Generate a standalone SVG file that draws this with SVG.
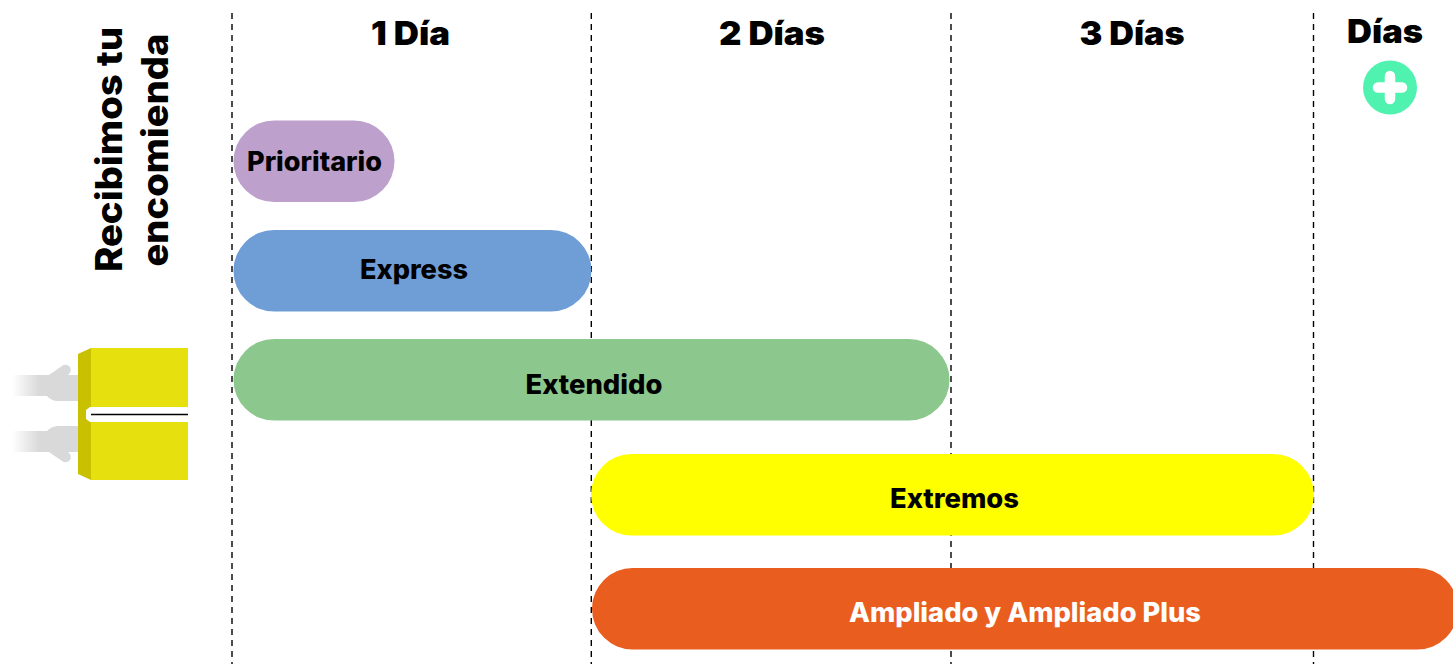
<svg xmlns="http://www.w3.org/2000/svg" width="1453" height="664" viewBox="0 0 1453 664">
<style>
.dash{stroke:#000;stroke-width:1.4;stroke-dasharray:6 5;fill:none}
text{font-family:"Inter","Liberation Sans",sans-serif;fill:#000;text-anchor:middle}
.h{font-size:33px;font-weight:900}
.b{font-size:26.500px;font-weight:800}
.v{font-size:37px;font-weight:800}
.arm{fill:#d9d9d9}
</style>
<defs>
<linearGradient id="fade" x1="0" x2="1" y1="0" y2="0"><stop offset="0" stop-color="#d9d9d9" stop-opacity="0"/><stop offset="0.4" stop-color="#d9d9d9"/></linearGradient>
</defs>
<g id="connectors">
<line class="dash" x1="232" y1="13" x2="232" y2="664"/>
<line class="dash" x1="591.300" y1="13" x2="591.300" y2="664"/>
<line class="dash" x1="951" y1="13" x2="951" y2="664"/>
<line class="dash" x1="1313.500" y1="13" x2="1313.500" y2="664"/>
</g>
<g id="col1"><text class="h" x="410.500" y="45" textLength="79" lengthAdjust="spacingAndGlyphs">1 Día</text></g>
<g id="col2"><text class="h" x="772" y="45" textLength="106" lengthAdjust="spacingAndGlyphs">2 Días</text></g>
<g id="col3"><text class="h" x="1132" y="45" textLength="105" lengthAdjust="spacingAndGlyphs">3 Días</text></g>
<g id="col4"><text class="h" x="1385" y="43" textLength="76" lengthAdjust="spacingAndGlyphs">Días</text>
<circle cx="1390" cy="87.500" r="27" fill="#50f2b0"/>
<path d="M1390 76v23M1378 87.500h24" stroke="#fff" stroke-width="10.500" stroke-linecap="round" fill="none"/></g>
<g id="received"><text class="v" transform="translate(122 149.500) rotate(-90)" textLength="245" lengthAdjust="spacingAndGlyphs">Recibimos tu</text>
<text class="v" transform="translate(168 150) rotate(-90)" textLength="233" lengthAdjust="spacingAndGlyphs">encomienda</text></g>
<g id="box">
<rect x="12" y="375" width="68" height="21" fill="url(#fade)"/>
<rect x="12" y="431" width="68" height="21" fill="url(#fade)"/>
<path class="arm" d="M46 377l16-11a5 5 0 0 1 7 8l-3 3h14v24H58q-7 0-12-6z"/>
<path class="arm" d="M46 450l16 11a5 5 0 0 0 7-8l-3-3h14v-24H58q-7 0-12 6z"/>
<path d="M78 354l13-6v132l-13-6z" fill="#c9c000"/>
<rect x="91" y="348" width="97" height="132" fill="#e6e00e"/>
<path d="M188 407H90l-4 3v9l4 3h98z" fill="#fff"/>
<line x1="91" y1="414.500" x2="188" y2="414.500" stroke="#000" stroke-width="1.500"/>
</g>
<g id="prioritario"><rect x="233.500" y="120.500" width="161" height="81.500" rx="40.700" fill="#bda0cc"/><text class="b" x="314.500" y="171" textLength="135" lengthAdjust="spacingAndGlyphs">Prioritario</text></g>
<g id="express"><rect x="233.500" y="230" width="358" height="81.500" rx="40.700" fill="#6f9dd6"/><text class="b" x="414" y="279" textLength="108" lengthAdjust="spacingAndGlyphs">Express</text></g>
<g id="extendido"><rect x="233.500" y="339" width="716" height="81.500" rx="40.700" fill="#8cc78e"/><text class="b" x="594" y="394" textLength="137" lengthAdjust="spacingAndGlyphs">Extendido</text></g>
<g id="extremos"><rect x="591" y="454" width="723" height="81.500" rx="40.700" fill="#ffff00"/><text class="b" x="954.500" y="508" textLength="129" lengthAdjust="spacingAndGlyphs">Extremos</text></g>
<g id="ampliado"><rect x="592" y="568" width="866" height="81.500" rx="40.700" fill="#e95e1f"/><text class="b" x="1025" y="622" style="fill:#fff" textLength="352" lengthAdjust="spacingAndGlyphs">Ampliado y Ampliado Plus</text></g>
</svg>
